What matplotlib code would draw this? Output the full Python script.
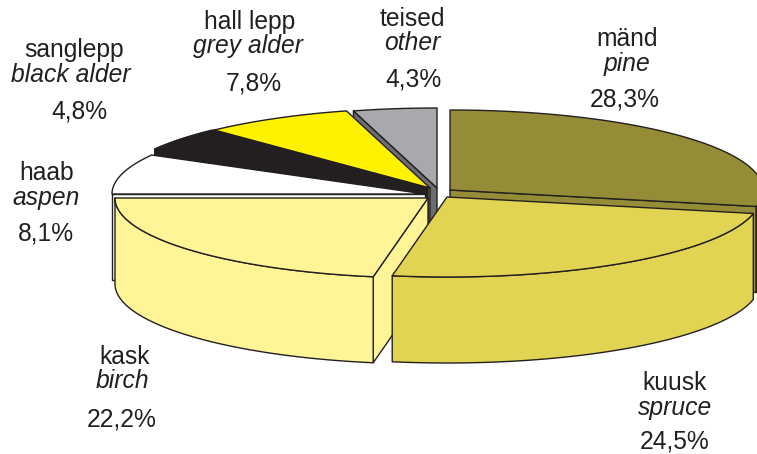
import numpy as np
import matplotlib
matplotlib.use("Agg")
import matplotlib.pyplot as plt
from matplotlib.patches import Polygon

# data
names_et = ["mänd", "kuusk", "kask", "haab", "sanglepp", "hall lepp", "teised"]
names_en = ["pine", "spruce", "birch", "aspen", "black alder", "grey alder", "other"]
shares = [28.3, 24.5, 22.2, 8.1, 4.8, 7.8, 4.3]

# style and layout
top_colors = ["#958C38", "#E1D452", "#FFF597", "#FFFFFF", "#231F20", "#FFF200", "#A7A9AC"]
side_colors = ["#958C38", "#E1D452", "#FFF597", "#FFFFFF", "#231F20", "#8F8A3C", "#6D6E71"]
wall_colors = ["#3A3718", "#E1D452", "#FFF597", "#FFFFFF", "#231F20", "#8F8A3C", "#6D6E71"]
apex = [(450, 190), (447, 197), (428, 198), (425, 194), (428, 188), (430, 188), (437, 188)]
draw_order = [6, 5, 4, 3, 0, 2, 1]
label_pos = [
    [(627, 38), (627, 63), (625, 98)],
    [(675, 381), (675, 406), (675, 439)],
    [(125, 356), (122, 380), (122, 417)],
    [(47, 171), (46, 196), (46, 232)],
    [(74, 49), (71, 73), (79, 110)],
    [(250, 21), (248, 45), (254, 82)],
    [(412, 17), (412, 42), (413, 78)],
]
RX, RY, DEPTH = 313, 80, 86
INK = "#231F20"
LW = 1.0

plt.rcParams["font.family"] = ["Liberation Sans", "DejaVu Sans"]
fig = plt.figure(figsize=(7.57, 4.54), dpi=100)
ax = fig.add_axes([0, 0, 1, 1])
ax.set_xlim(0, 757)
ax.set_ylim(454, 0)
ax.axis("off")

edges = np.concatenate([[0], np.cumsum(shares)]) / np.sum(shares) * 360


def rim(c, a0, a1, n=80):
    t = np.radians(np.linspace(a0, a1, n))
    return np.column_stack([c[0] + RX * np.sin(t), c[1] - RY * np.cos(t)])


def poly(pts, fc):
    ax.add_patch(Polygon(pts, closed=True, facecolor=fc, edgecolor=INK,
                         linewidth=LW, joinstyle="round"))


down = np.array([0, DEPTH])
for i in draw_order:
    a0, a1 = edges[i], edges[i + 1]
    c = np.array(apex[i], float)
    # radial cut faces that look towards the viewer
    faces = []
    if 180 < a0 < 360:
        faces.append(a0)
    if 0 < a1 < 180:
        faces.append(a1)
    for a in faces:
        p = rim(c, a, a, 1)[0]
        poly([c, p, p + down, c + down], side_colors[i])
    # outer wall: only the part on the front half of the pie
    w0, w1 = max(a0, 90), min(a1, 270)
    if w1 > w0:
        arc = rim(c, w0, w1)
        poly(np.vstack([arc, (arc + down)[::-1]]), wall_colors[i])
    # top
    poly(np.vstack([c, rim(c, a0, a1)]), top_colors[i])

for i, pos in enumerate(label_pos):
    pct = f"{shares[i]:.1f}%".replace(".", ",")
    kw = dict(ha="center", va="center", fontsize=17.7, color=INK)
    ax.text(pos[0][0], pos[0][1] + 1.5, names_et[i], **kw)
    ax.text(pos[1][0], pos[1][1] + 1.5, names_en[i], style="italic", **kw)
    ax.text(pos[2][0], pos[2][1] + 2, pct, **kw)

fig.savefig("out.png", dpi=100)
